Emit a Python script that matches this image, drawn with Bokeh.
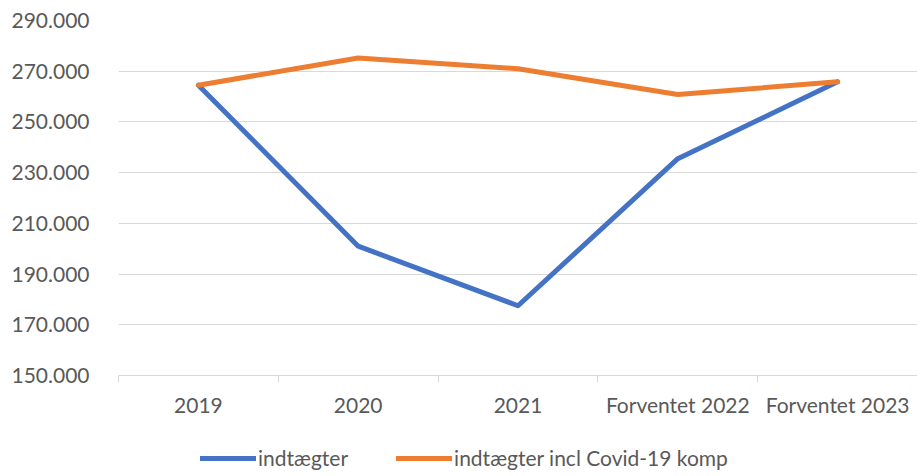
from bokeh.plotting import figure
from bokeh.layouts import column
from bokeh.models import Range1d, FixedTicker, Legend, LegendItem
from bokeh.embed import file_html
from bokeh.resources import INLINE

categories = ["2019", "2020", "2021", "Forventet 2022", "Forventet 2023"]
indtaegter = [264500, 201000, 177500, 235500, 265800]
indtaegter_covid = [264500, 275200, 271000, 260800, 265800]
y_ticks = [150000, 170000, 190000, 210000, 230000, 250000, 270000, 290000]
y_tick_labels = ["150.000", "170.000", "190.000", "210.000", "230.000", "250.000", "270.000", "290.000"]
series_names = ["indtægter", "indtægter incl Covid-19 komp"]
series_colors = ["#4472C4", "#ED7D31"]

FONT = "Lato"
FS = "21px"
TXT = "#595959"
GRID = "#d9d9d9"

xs = [i + 0.5 for i in range(len(categories))]

p = figure(width=917, height=430, output_backend="svg", toolbar_location=None,
           x_range=Range1d(0, len(categories)), y_range=Range1d(150000, 290000))
p.min_border_left = 118
p.min_border_right = 0
p.min_border_top = 20
p.min_border_bottom = 55
p.outline_line_color = None
p.background_fill_color = "white"
p.border_fill_color = "white"

for vals, col in zip([indtaegter, indtaegter_covid], series_colors):
    p.line(xs, vals, line_color=col, line_width=5, line_cap="round", line_join="round")

# x axis
p.xaxis.ticker = FixedTicker(ticks=xs, minor_ticks=list(range(len(categories) + 1)))
p.xaxis.major_label_overrides = {x: c for x, c in zip(xs, categories)}
p.xaxis.major_tick_line_color = None
p.xaxis.major_tick_out = 0
p.xaxis.major_tick_in = 0
p.xaxis.minor_tick_line_color = GRID
p.xaxis.minor_tick_out = 7
p.xaxis.minor_tick_in = 0
p.xaxis.axis_line_color = GRID
p.xaxis.axis_line_width = 1
p.xaxis.major_label_text_font = FONT
p.xaxis.major_label_text_font_size = FS
p.xaxis.major_label_text_color = TXT
p.xaxis.major_label_standoff = 9
p.xgrid.grid_line_color = None

# y axis
p.yaxis.ticker = FixedTicker(ticks=y_ticks)
p.yaxis.major_label_overrides = {t: l for t, l in zip(y_ticks, y_tick_labels)}
p.yaxis.axis_line_color = None
p.yaxis.major_tick_line_color = None
p.yaxis.minor_tick_line_color = None
p.yaxis.major_tick_out = 0
p.yaxis.major_tick_in = 0
p.yaxis.major_label_text_font = FONT
p.yaxis.major_label_text_font_size = FS
p.yaxis.major_label_text_color = TXT
p.yaxis.major_label_standoff = 29
p.ygrid.grid_line_color = GRID
p.ygrid.grid_line_width = 1

# legend strip (same series, outside its visible range, only used for the legend)
lg = figure(width=917, height=46, output_backend="svg", toolbar_location=None,
            x_range=Range1d(0, 1), y_range=Range1d(0, 1))
lg.min_border_left = 0
lg.min_border_right = 0
lg.min_border_top = 0
lg.min_border_bottom = 0
lg.outline_line_color = None
lg.axis.visible = False
lg.grid.grid_line_color = None
items = []
for vals, col, name in zip([indtaegter, indtaegter_covid], series_colors, series_names):
    r = lg.line(xs, vals, line_color=col, line_width=5, line_cap="round")
    items.append(LegendItem(label=name, renderers=[r]))

legend = Legend(items=items, orientation="horizontal", location=(82, 6))
legend.label_text_font = FONT
legend.label_text_font_size = FS
legend.label_text_color = TXT
legend.glyph_width = 56
legend.glyph_height = 22
legend.label_standoff = 2
legend.spacing = 48
legend.border_line_color = None
legend.background_fill_alpha = 0
legend.padding = 0
legend.margin = 0
lg.add_layout(legend, "center")

layout = column(p, lg, spacing=0)
open("out.html", "w").write(file_html(layout, INLINE))
